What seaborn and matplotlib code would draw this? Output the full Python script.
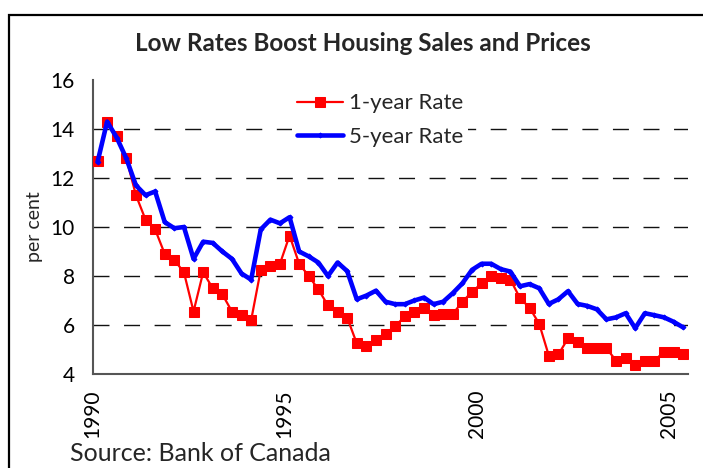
import matplotlib
matplotlib.use("Agg")
import matplotlib.pyplot as plt
import seaborn as sns
import numpy as np
import pandas as pd
from matplotlib.patches import Rectangle

# quarterly data, 1990Q1 - 2005Q2
start_quarter = "1990Q1"
end_quarter = "2005Q2"

one_year_rate = [12.7, 14.3, 13.7, 12.8, 11.3, 10.3, 9.9, 8.9,
                 8.65, 8.15, 6.55, 8.15, 7.5, 7.25, 6.55, 6.4,
                 6.2, 8.25, 8.4, 8.5, 9.65, 8.5, 8.0, 7.45,
                 6.8, 6.55, 6.3, 5.25, 5.15, 5.4, 5.65, 5.95,
                 6.35, 6.55, 6.7, 6.4, 6.45, 6.45, 6.95, 7.35,
                 7.7, 8.0, 7.9, 7.85, 7.1, 6.7, 6.05, 4.75,
                 4.8, 5.45, 5.3, 5.05, 5.05, 5.05, 4.55, 4.65,
                 4.35, 4.55, 4.55, 4.9, 4.9, 4.8]

five_year_rate = [12.65, 14.3, 13.65, 12.8, 11.7, 11.3, 11.45, 10.2,
                  9.95, 10.0, 8.7, 9.4, 9.35, 9.0, 8.7, 8.1,
                  7.85, 9.9, 10.3, 10.15, 10.4, 9.0, 8.8, 8.55,
                  8.0, 8.55, 8.2, 7.05, 7.2, 7.4, 6.95, 6.85,
                  6.85, 7.0, 7.12, 6.85, 6.95, 7.3, 7.7, 8.25,
                  8.5, 8.5, 8.28, 8.18, 7.58, 7.67, 7.5, 6.86,
                  7.05, 7.38, 6.86, 6.78, 6.64, 6.23, 6.31, 6.48,
                  5.87, 6.48, 6.4, 6.31, 6.13, 5.9]

year_ticks = list(range(1990, 2006))
year_labels = ["1990", "1995", "2000", "2005"]

periods = pd.period_range(start_quarter, end_quarter, freq="Q")
# centre of each quarter, in years
x_pos = periods.year + (periods.quarter - 0.5) / 4.0

df = pd.DataFrame({"Year": x_pos,
                   "1-year Rate": one_year_rate,
                   "5-year Rate": five_year_rate})

sns.set_style("white")
plt.rcParams["font.family"] = ["Lato", "DejaVu Sans"]

fig = plt.figure(figsize=(7.03, 4.68), dpi=100)
ax = fig.add_axes([0.1319, 0.2009, 0.8468, 0.6281])

sns.lineplot(data=df, x="Year", y="1-year Rate", ax=ax, color="#ff0000",
             linewidth=1.6, marker="s", markersize=7.5, markeredgecolor="#ff0000",
             label="1-year Rate", zorder=3)
sns.lineplot(data=df, x="Year", y="5-year Rate", ax=ax, color="#0000ff",
             linewidth=3.3, marker="D", markersize=2.5, markeredgecolor="#0000ff",
             label="5-year Rate", zorder=4)

ax.set_xlim(1990, 2005.5)
ax.set_ylim(4, 16)
ax.set_yticks(range(4, 17, 2))
ax.set_xticks(year_ticks)
ax.set_xticklabels([str(y) if str(y) in year_labels else "" for y in year_ticks],
                   rotation=90)

# dashed gridlines (Excel style, skip the top and bottom)
for v in range(6, 16, 2):
    ax.axhline(v, color="#111111", linestyle=(0, (11.5, 10.5)), lw=1.0, zorder=1)

for side in ["top", "right"]:
    ax.spines[side].set_visible(False)
for side in ["left", "bottom"]:
    ax.spines[side].set_color("#555555")
    ax.spines[side].set_linewidth(1.5)

ax.tick_params(axis="both", which="both", direction="out", length=5,
               width=1.2, color="#555555", labelsize=15, labelcolor="black")
ax.tick_params(axis="y", pad=8)
ax.tick_params(axis="x", pad=6)

ax.set_xlabel("")
ax.set_ylabel("per cent", fontsize=14, labelpad=5)

leg = ax.legend(loc="upper left", bbox_to_anchor=(0.335, 0.97), frameon=True,
                fontsize=16, handlelength=2.1, handletextpad=0.25,
                labelspacing=0.62, borderpad=0.2, borderaxespad=0.0,
                facecolor="white", edgecolor="none", framealpha=1.0,
                fancybox=False)

fig.text(0.516, 0.907, "Low Rates Boost Housing Sales and Prices",
         ha="center", va="center", fontsize=17.5, fontweight="bold")
fig.text(0.1, 0.03, "Source: Bank of Canada", ha="left", va="center",
         fontsize=18)

# border frame around the chart area
fig.patches.append(Rectangle((9 / 703, -0.2), 1.2, 1.2 - 15 / 468,
                             transform=fig.transFigure, fill=False,
                             edgecolor="black", lw=1.6, zorder=0))

fig.savefig("out.png", dpi=100)
